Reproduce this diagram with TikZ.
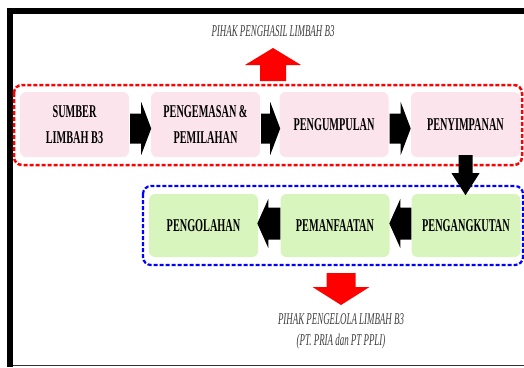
\documentclass[tikz,border=0pt]{standalone}
\usepackage{fontspec}
\setmainfont{Liberation Serif}
\newfontfamily\boxfont[FakeStretch=0.57]{Liberation Serif}
\newfontfamily\labfont[FakeStretch=0.54]{Liberation Serif}
\definecolor{pinkfill}{RGB}{252,228,236}
\definecolor{greenfill}{RGB}{216,245,190}
\definecolor{labgray}{RGB}{60,60,60}
\newcommand{\blockarr}[7]{%
  \fill[#1, shift={(#2)}, rotate=#3]
    (0pt,#5pt) -- ({#4pt-#7pt},#5pt) -- ({#4pt-#7pt},#6pt) -- (#4pt,0pt)
    -- ({#4pt-#7pt},-#6pt) -- ({#4pt-#7pt},-#5pt) -- (0pt,-#5pt) -- cycle;}
\tikzset{
  stagebox/.style={draw=none, rounded corners=6pt, minimum width=109pt,
    inner sep=2pt, align=center,
    font=\boxfont\bfseries\fontsize{18}{26}\selectfont},
  pinkbox/.style={stagebox, fill=pinkfill, minimum height=65pt},
  greenbox/.style={stagebox, fill=greenfill, minimum height=63pt},
  grouplabel/.style={text=labgray, align=center,
    font=\labfont\itshape\fontsize{16.5}{21}\selectfont},
  redgroup/.style={draw=red, line width=2.5pt, dash pattern=on 4pt off 2pt, rounded corners=8pt},
  bluegroup/.style={draw=blue, line width=2.2pt, dash pattern=on 4pt off 2pt, rounded corners=8pt}
}
\begin{document}
\begin{tikzpicture}[x=1pt,y=-1pt]
\useasboundingbox (0,0) rectangle (524,367);
% outer frame
\fill[black] (7,8) rectangle (524,14);
\fill[black] (7,8) rectangle (13,367);
\draw[black!80, line width=1.5pt] (13,365.5) -- (524,365.5);
% group frames
\draw[redgroup] (14,85) rectangle (522,165);
\draw[bluegroup] (143,186) rectangle (523,265);
% stage boxes
\node[pinkbox] (s1) at (74.5,124.5) {SUMBER\\LIMBAH B3};
\node[pinkbox] (s2) at (205.5,124.5) {PENGEMASAN \&\\PEMILAHAN};
\node[pinkbox] (s3) at (334,124.5) {PENGUMPULAN};
\node[pinkbox] (s4) at (465.5,124.5) {PENYIMPANAN};
\node[greenbox] (g1) at (203.5,225.5) {PENGOLAHAN};
\node[greenbox] (g2) at (335,225.5) {PEMANFAATAN};
\node[greenbox] (g3) at (466,225.5) {PENGANGKUTAN};
% labels
\node[grouplabel] (top) at (273,31) {PIHAK PENGHASIL LIMBAH B3};
\node[grouplabel] (bot) at (341,331) {PIHAK PENGELOLA LIMBAH B3\\(PT. PRIA dan PT PPLI)};
% black block arrows
\blockarr{black}{[yshift=-4pt,xshift=1pt]s1.east}{0}{21}{15}{26.5}{10}
\blockarr{black}{[yshift=-4pt,xshift=1pt]s2.east}{0}{19}{15}{26.5}{10}
\blockarr{black}{[yshift=-4pt,xshift=1pt]s3.east}{0}{21}{15}{26.5}{10}
\blockarr{black}{[yshift=2pt]s4.south}{-90}{40}{7}{14}{22}
\blockarr{black}{[yshift=2pt]g3.west}{180}{22}{16}{24.5}{11}
\blockarr{black}{[yshift=2pt]g2.west}{180}{23}{16}{24.5}{11}
% red block arrows
\coordinate (upt) at (273,81);
\coordinate (dnt) at (341,273);
\blockarr{red}{upt}{90}{33}{13}{28}{17}
\blockarr{red}{dnt}{-90}{32}{14.5}{28.5}{18}
\end{tikzpicture}
\end{document}
